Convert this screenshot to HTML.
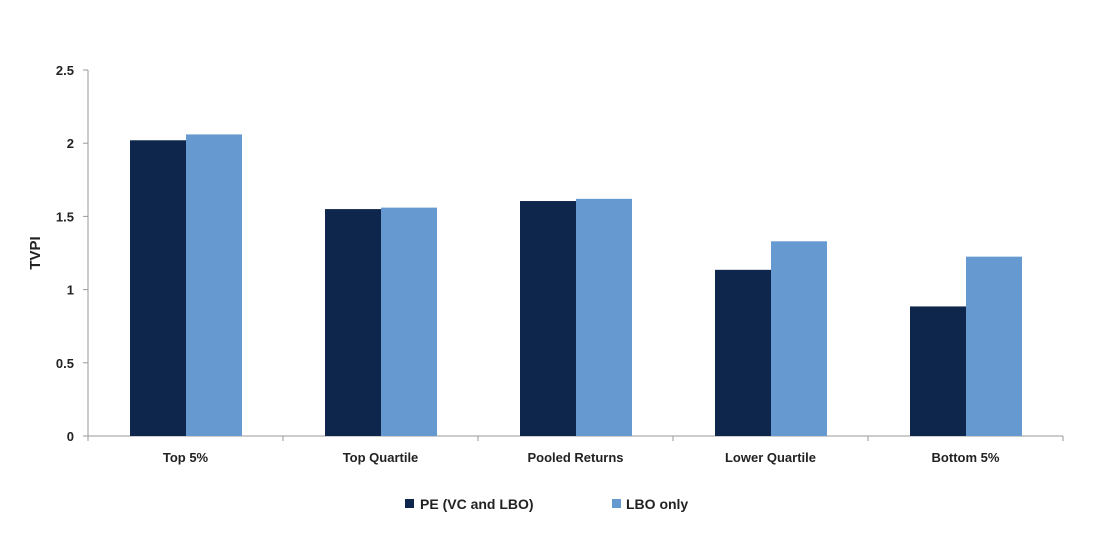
<!DOCTYPE html>
<html><head><meta charset="utf-8"><style>
body{margin:0;background:#fff;}
svg text{font-family:"Liberation Sans",sans-serif;font-weight:bold;fill:#222;}
</style></head><body>
<svg width="1104" height="528" id="chart">
<g id="g"></g>
</svg>
<script>
const categories=["Top 5%","Top Quartile","Pooled Returns","Lower Quartile","Bottom 5%"];
const peValues=[2.02,1.55,1.605,1.135,0.885];
const lboValues=[2.06,1.56,1.62,1.33,1.225];
const yTicks=[0,0.5,1,1.5,2,2.5];
const yTickLabels=["0","0.5","1","1.5","2","2.5"];
const NS="http://www.w3.org/2000/svg";
const g=document.getElementById('g');
const x0=88,x1=1063,yBase=436,yTop=70,yMax=2.5;
const y=v=>yBase-(v/yMax)*(yBase-yTop);
const bw=(x1-x0)/categories.length;
function el(t,a,txt){const e=document.createElementNS(NS,t);for(const k in a)e.setAttribute(k,a[k]);if(txt!==undefined)e.textContent=txt;g.appendChild(e);return e;}
let e;
e=el('line',{x1:x0,y1:yTop,x2:x0,y2:yBase,stroke:'#999','stroke-width':1});


e=el('line',{x1:x0,y1:yBase,x2:x1,y2:yBase,stroke:'#999','stroke-width':1});


yTicks.forEach((t,i)=>{
 el('line',{x1:x0-5,y1:y(t),x2:x0,y2:y(t),stroke:'#999'});
 e=el('text',{x:74,y:y(t)+5,'text-anchor':'end','font-size':13},yTickLabels[i]);
 
 
});
for(let i=0;i<=categories.length;i++){el('line',{x1:x0+i*bw,y1:yBase,x2:x0+i*bw,y2:yBase+5,stroke:'#999'});}
categories.forEach((c,i)=>{
 const gx=x0+i*bw+42;
 e=el('rect',{x:gx,y:y(peValues[i]),width:56,height:yBase-y(peValues[i]),fill:'#0e264b'});
 
 
 e=el('rect',{x:gx+56,y:y(lboValues[i]),width:56,height:yBase-y(lboValues[i]),fill:'#6699d0'});
 
 
 e=el('text',{x:x0+i*bw+bw/2,y:462,'text-anchor':'middle','font-size':13},c);
 
 
});
e=el('text',{x:0,y:0,'font-size':15,'text-anchor':'middle',transform:'translate(40,253) rotate(-90)'},'TVPI');


e=el('rect',{x:405,y:499,width:9,height:9,fill:'#0e264b'});


e=el('text',{x:420,y:509,'font-size':14},'PE (VC and LBO)');


e=el('rect',{x:612,y:499,width:9,height:9,fill:'#6699d0'});


e=el('text',{x:626,y:509,'font-size':14},'LBO only');


</script>
</body></html>
